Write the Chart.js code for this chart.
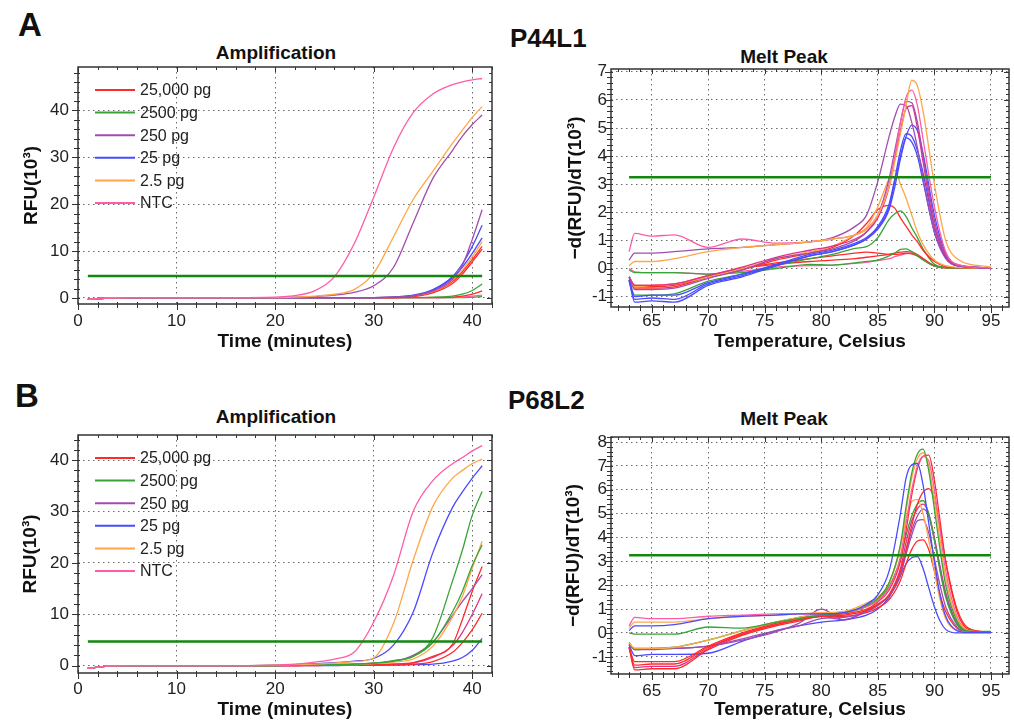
<!DOCTYPE html>
<html>
<head>
<meta charset="utf-8">
<script src="https://cdn.jsdelivr.net/npm/chart.js@4.4.0/dist/chart.umd.min.js"></script>
<style>
  html, body { margin: 0; padding: 0; background: #fff; width: 1014px; height: 720px; overflow: hidden; }
  .box { position: absolute; }
  .txt { position: absolute; font-family: 'Liberation Sans', Arial, sans-serif; font-weight: bold; color: #111; white-space: nowrap; line-height: 1; }
  .mid { transform: translateX(-50%); }
</style>
</head>
<body>
<div class="txt" style="left:18px; top:8px; font-size:33px;">A</div>
<div class="txt" style="left:15px; top:379px; font-size:33px;">B</div>
<div class="txt" style="left:510px; top:25px; font-size:26px;">P44L1</div>
<div class="txt" style="left:508px; top:387px; font-size:26px;">P68L2</div>
<div class="txt mid" style="left:276px; top:43px; font-size:19px;">Amplification</div>
<div class="txt mid" style="left:784px; top:47px; font-size:19px;">Melt Peak</div>
<div class="txt mid" style="left:276px; top:407px; font-size:19px;">Amplification</div>
<div class="txt mid" style="left:784px; top:409px; font-size:19px;">Melt Peak</div>

<div class="box" style="left:0px; top:60px;"><canvas id="ampA" width="500" height="300"></canvas></div>
<div class="box" style="left:500px; top:60px;"><canvas id="meltA" width="514" height="300"></canvas></div>
<div class="box" style="left:0px; top:380px;"><canvas id="ampB" width="500" height="340"></canvas></div>
<div class="box" style="left:500px; top:380px;"><canvas id="meltB" width="514" height="340"></canvas></div>

<script>
// ---------- amplification data (time in minutes, RFU x 1000) ----------
const minutes = [1, 3, 5, 10, 15, 20, 22, 24, 26, 28, 30, 32, 34, 36, 38, 39, 40, 41];
const ampTicks = [0, 10, 20, 30, 40];
const ampThresholdX = [1, 41];
const ampThresholdA = [4.7, 4.7];
const ampThresholdB = [4.7, 4.7];

const legendLabels = ['25,000 pg', '2500 pg', '250 pg', '25 pg', '2.5 pg', 'NTC'];
const legendKeys = ['red', 'green', 'purple', 'blue', 'orange', 'pink'];

// P44L1
const ampA_ntc    = [-0.3, 0.0, 0.1, 0.1, 0.1, 0.2, 0.5, 1.5, 4.5, 11.5, 21.5, 32.0, 39.5, 43.5, 45.5, 46.1, 46.5, 46.8];
const ampA_ora1   = [-0.3, 0.0, 0.1, 0.1, 0.1, 0.1, 0.2, 0.4, 0.8, 1.8, 5.3, 13.0, 21.0, 27.0, 33.0, 35.8, 38.5, 40.8];
const ampA_pur1   = [-0.3, 0.0, 0.1, 0.1, 0.1, 0.1, 0.2, 0.3, 0.6, 1.2, 2.6, 6.5, 16.0, 25.5, 31.5, 34.5, 37.0, 39.0];
const ampA_pur2   = [-0.3, 0.0, 0.1, 0.1, 0.1, 0.1, 0.1, 0.1, 0.1, 0.1, 0.1, 0.2, 0.5, 1.5, 4.0, 7.0, 12.5, 18.8];
const ampA_blue1  = [-0.3, 0.0, 0.1, 0.1, 0.1, 0.1, 0.1, 0.1, 0.1, 0.1, 0.1, 0.2, 0.6, 1.8, 4.6, 7.3, 11.0, 15.5];
const ampA_blue2  = [-0.3, 0.0, 0.1, 0.1, 0.1, 0.1, 0.1, 0.1, 0.1, 0.1, 0.1, 0.2, 0.5, 1.6, 4.3, 6.6, 9.5, 12.8];
const ampA_ora2   = [-0.3, 0.0, 0.1, 0.1, 0.1, 0.1, 0.1, 0.1, 0.1, 0.1, 0.1, 0.2, 0.5, 1.4, 3.8, 6.0, 8.8, 12.0];
const ampA_red1   = [-0.3, 0.0, 0.1, 0.1, 0.1, 0.1, 0.1, 0.1, 0.1, 0.1, 0.1, 0.1, 0.4, 1.3, 3.5, 5.6, 8.2, 11.0];
const ampA_red2   = [-0.3, 0.0, 0.1, 0.1, 0.1, 0.1, 0.1, 0.1, 0.1, 0.1, 0.1, 0.1, 0.3, 1.1, 3.1, 5.1, 7.7, 10.4];
const ampA_green1 = [-0.3, 0.0, 0.1, 0.1, 0.1, 0.1, 0.1, 0.1, 0.1, 0.1, 0.1, 0.1, 0.1, 0.2, 0.4, 0.8, 1.6, 3.0];
const ampA_red3   = [-0.3, 0.0, 0.1, 0.1, 0.1, 0.1, 0.1, 0.1, 0.1, 0.1, 0.1, 0.1, 0.1, 0.1, 0.2, 0.4, 0.8, 1.5];
const ampA_pink2  = [-0.3, 0.0, 0.1, 0.1, 0.1, 0.1, 0.1, 0.1, 0.1, 0.1, 0.1, 0.1, 0.1, 0.1, 0.1, 0.2, 0.4, 0.6];
const ampA_green2 = [-0.3, 0.0, 0.1, 0.1, 0.1, 0.1, 0.1, 0.1, 0.1, 0.1, 0.1, 0.1, 0.1, 0.1, 0.1, 0.1, 0.2, 0.3];

// P68L2
const ampB_ntc    = [-0.5, -0.1, 0.0, 0.0, 0.0, 0.1, 0.3, 0.7, 1.3, 2.6, 8.5, 17.5, 30.0, 36.0, 39.3, 40.5, 41.8, 42.8];
const ampB_ora1   = [-0.5, -0.1, 0.0, 0.0, 0.0, 0.1, 0.2, 0.3, 0.5, 0.8, 1.5, 8.2, 20.5, 31.0, 36.5, 38.0, 39.3, 40.2];
const ampB_blue1  = [-0.5, -0.1, 0.0, 0.0, 0.0, 0.1, 0.2, 0.4, 0.6, 0.9, 1.4, 4.0, 10.4, 22.0, 30.8, 33.8, 36.5, 38.9];
const ampB_green1 = [-0.5, -0.1, 0.0, 0.0, 0.0, 0.0, 0.1, 0.1, 0.2, 0.3, 0.5, 1.0, 1.8, 5.5, 16.5, 22.5, 29.3, 33.9];
const ampB_green2 = [-0.5, -0.1, 0.0, 0.0, 0.0, 0.0, 0.1, 0.1, 0.2, 0.3, 0.5, 0.9, 1.8, 4.5, 10.5, 14.5, 19.5, 23.5];
const ampB_ora2   = [-0.5, -0.1, 0.0, 0.0, 0.0, 0.0, 0.1, 0.1, 0.2, 0.2, 0.4, 0.7, 1.3, 3.8, 9.5, 13.5, 19.0, 24.2];
const ampB_pur1   = [-0.5, -0.1, 0.0, 0.0, 0.0, 0.0, 0.1, 0.1, 0.2, 0.3, 0.5, 0.8, 2.0, 4.6, 9.8, 12.5, 15.0, 17.7];
const ampB_red1   = [-0.5, -0.1, 0.0, 0.0, 0.0, 0.0, 0.0, 0.1, 0.1, 0.1, 0.2, 0.3, 0.6, 1.8, 4.2, 9.0, 14.5, 19.3];
const ampB_mag1   = [-0.5, -0.1, 0.0, 0.0, 0.0, 0.0, 0.0, 0.1, 0.1, 0.1, 0.2, 0.3, 0.5, 1.6, 3.9, 6.5, 10.0, 14.0];
const ampB_red2   = [-0.5, -0.1, 0.0, 0.0, 0.0, 0.0, 0.0, 0.0, 0.1, 0.1, 0.1, 0.2, 0.3, 0.8, 2.6, 4.5, 7.0, 10.2];
const ampB_blue2  = [-0.5, -0.1, 0.0, 0.0, 0.0, 0.0, 0.0, 0.0, 0.0, 0.1, 0.1, 0.1, 0.2, 0.3, 0.9, 1.6, 3.0, 5.3];

// ---------- melt peak data (temperature in C, -d(RFU)/dT x 1000) ----------
const meltTicksX = [65, 70, 75, 80, 85, 90, 95];
const meltTicksYA = [-1, 0, 1, 2, 3, 4, 5, 6, 7];
const meltTicksYB = [-1, 0, 1, 2, 3, 4, 5, 6, 7, 8];
const meltThresholdX = [63, 95];
const meltThresholdA = [3.25, 3.25];
const meltThresholdB = [3.26, 3.26];

const tempA = [63, 63.5, 65, 67, 70, 73, 76, 79, 81, 83, 84, 85, 86, 86.5, 87, 87.5, 88, 88.5, 89, 90, 91, 92, 95];
const meltA_ora1   = [0.1, 0.25, 0.25, 0.35, 0.6, 0.75, 0.85, 0.95, 1.05, 1.2, 1.4, 1.9, 2.9, 3.8, 4.8, 5.8, 6.7, 6.5, 5.6, 3.0, 1.0, 0.35, 0.05];
const meltA_pink1  = [0.6, 1.25, 1.15, 1.2, 0.75, 1.05, 0.9, 0.95, 1.05, 1.2, 1.4, 1.9, 3.0, 4.0, 5.2, 6.1, 6.35, 5.8, 4.6, 2.2, 0.6, 0.15, 0.02];
const meltA_pur1   = [0.3, 0.55, 0.55, 0.6, 0.7, 0.75, 0.85, 0.95, 1.1, 1.5, 1.9, 3.1, 4.7, 5.4, 5.85, 5.8, 5.2, 4.3, 3.2, 1.3, 0.35, 0.1, 0.02];
const meltA_pur2   = [-0.3, -0.75, -0.75, -0.7, -0.35, -0.05, 0.35, 0.55, 0.7, 1.0, 1.3, 1.9, 3.2, 4.2, 5.2, 5.95, 5.9, 5.2, 4.0, 1.7, 0.5, 0.15, 0.02];
const meltA_red1   = [-0.3, -0.6, -0.6, -0.55, -0.25, 0.05, 0.4, 0.65, 0.8, 1.05, 1.3, 1.8, 2.9, 3.9, 4.9, 5.7, 5.8, 5.0, 3.8, 1.5, 0.45, 0.1, 0.02];
const meltA_blue1  = [-0.4, -1.2, -1.15, -1.2, -0.6, -0.3, 0.1, 0.45, 0.6, 0.85, 1.05, 1.4, 2.1, 2.9, 3.9, 4.7, 5.1, 4.9, 4.1, 1.9, 0.55, 0.12, 0.02];
const meltA_blue2  = [-0.4, -1.0, -0.95, -0.95, -0.5, -0.2, 0.15, 0.5, 0.65, 0.9, 1.1, 1.5, 2.3, 3.2, 4.2, 4.8, 4.7, 4.2, 3.4, 1.5, 0.45, 0.1, 0.02];
const meltA_blue3  = [-0.45, -1.1, -1.05, -1.1, -0.55, -0.25, 0.1, 0.45, 0.6, 0.85, 1.05, 1.45, 2.2, 3.1, 4.0, 4.65, 4.5, 4.0, 3.1, 1.3, 0.4, 0.1, 0.02];
const meltA_ora2   = [-0.3, -0.65, -0.6, -0.55, -0.3, 0.0, 0.35, 0.6, 0.8, 1.2, 1.45, 2.2, 3.2, 3.5, 3.0, 2.5, 1.9, 1.3, 0.85, 0.3, 0.1, 0.04, 0.02];
const meltA_red2   = [-0.3, -0.7, -0.7, -0.65, -0.3, -0.05, 0.3, 0.55, 0.75, 1.2, 1.6, 2.1, 2.25, 2.15, 1.8, 1.5, 1.2, 0.95, 0.65, 0.25, 0.07, 0.03, 0.02];
const meltA_green1 = [-0.4, -0.95, -0.95, -0.9, -0.45, -0.2, 0.1, 0.35, 0.5, 0.72, 0.78, 1.1, 1.75, 1.95, 2.05, 1.85, 1.45, 1.1, 0.7, 0.15, 0.04, 0.02, 0.02];
const meltA_green2 = [-0.05, -0.15, -0.15, -0.15, -0.2, -0.15, 0.0, 0.15, 0.12, 0.2, 0.25, 0.3, 0.45, 0.55, 0.68, 0.7, 0.6, 0.45, 0.3, 0.08, 0.02, 0.02, 0.02];
const meltA_red3   = [-0.3, -0.6, -0.6, -0.55, -0.25, 0.0, 0.2, 0.35, 0.45, 0.55, 0.58, 0.55, 0.5, 0.5, 0.52, 0.55, 0.52, 0.45, 0.35, 0.1, 0.03, 0.02, 0.02];
const meltA_pink2  = [0.0, -0.12, -0.15, -0.15, -0.2, -0.1, 0.05, 0.1, 0.12, 0.18, 0.22, 0.28, 0.35, 0.42, 0.48, 0.53, 0.55, 0.45, 0.32, 0.08, 0.02, 0.02, 0.02];
const meltA_red4   = [-0.3, -0.65, -0.65, -0.6, -0.3, 0.0, 0.15, 0.25, 0.3, 0.35, 0.4, 0.45, 0.5, 0.55, 0.58, 0.6, 0.58, 0.5, 0.35, 0.1, 0.03, 0.02, 0.02];

const tempB = [63, 63.5, 65, 67, 70, 73, 76, 78, 80, 82, 84, 85, 86, 87, 87.5, 88, 88.5, 89, 89.5, 90, 90.5, 91, 92, 93, 95];
const meltB_blue1  = [0.1, 0.3, 0.3, 0.35, 0.6, 0.7, 0.75, 0.8, 0.8, 0.85, 1.2, 1.6, 2.6, 5.0, 6.5, 7.05, 7.1, 6.2, 4.6, 3.0, 1.6, 0.7, 0.1, 0.02, 0.02];
const meltB_green1 = [0.0, -0.05, -0.05, -0.05, 0.25, 0.2, 0.45, 0.6, 0.75, 0.85, 1.15, 1.45, 2.1, 3.7, 5.3, 6.7, 7.5, 7.7, 6.8, 5.2, 3.5, 2.0, 0.5, 0.08, 0.05];
const meltB_ora1   = [0.2, 0.45, 0.45, 0.45, 0.6, 0.7, 0.75, 0.8, 0.85, 0.9, 1.25, 1.5, 2.1, 3.6, 5.1, 6.5, 7.3, 7.55, 7.0, 5.6, 3.9, 2.3, 0.6, 0.1, 0.03];
const meltB_pink1  = [0.3, 0.65, 0.6, 0.6, 0.7, 0.75, 0.8, 0.8, 0.8, 0.85, 1.1, 1.35, 1.9, 3.2, 4.6, 6.0, 7.0, 7.4, 7.2, 6.0, 4.3, 2.6, 0.7, 0.1, 0.02];
const meltB_red1   = [-0.6, -1.2, -1.2, -1.2, -0.55, 0.0, 0.4, 0.6, 0.75, 0.8, 1.0, 1.3, 1.8, 3.0, 4.3, 5.8, 6.9, 7.4, 7.45, 6.4, 4.7, 3.0, 0.9, 0.15, 0.02];
const meltB_red2   = [-0.6, -1.35, -1.3, -1.3, -0.6, -0.05, 0.35, 0.55, 0.7, 0.75, 0.95, 1.2, 1.6, 2.6, 3.5, 4.5, 5.4, 5.9, 6.05, 5.6, 4.4, 3.0, 1.0, 0.2, 0.02];
const meltB_ora2   = [-0.4, -0.65, -0.65, -0.6, -0.3, 0.1, 0.45, 0.65, 0.8, 0.85, 1.15, 1.45, 2.1, 3.6, 4.8, 5.5, 5.6, 5.0, 3.9, 2.6, 1.4, 0.6, 0.1, 0.03, 0.02];
const meltB_green2 = [-0.4, -0.7, -0.65, -0.6, -0.3, 0.1, 0.45, 0.65, 0.8, 0.85, 1.1, 1.4, 1.95, 3.1, 4.1, 4.9, 5.4, 5.55, 5.0, 3.9, 2.6, 1.5, 0.35, 0.07, 0.06];
const meltB_pur1   = [-0.45, -0.65, -0.65, -0.65, -0.55, -0.3, 0.05, 0.4, 1.0, 0.55, 0.95, 1.2, 1.6, 2.5, 3.4, 4.3, 4.9, 5.2, 4.9, 3.9, 2.7, 1.6, 0.4, 0.05, 0.02];
const meltB_pur2   = [-0.45, -0.7, -0.7, -0.65, -0.55, -0.25, 0.1, 0.3, 0.6, 0.65, 0.9, 1.15, 1.55, 2.4, 3.3, 4.1, 4.7, 4.75, 4.2, 3.1, 2.0, 1.1, 0.25, 0.04, 0.02];
const meltB_red3   = [-0.6, -1.55, -1.5, -1.5, -0.7, -0.1, 0.3, 0.5, 0.7, 0.7, 0.85, 1.05, 1.4, 2.2, 2.9, 3.5, 3.85, 3.9, 3.5, 2.6, 1.6, 0.9, 0.2, 0.03, 0.02];
const meltB_blue2  = [-0.5, -0.95, -0.9, -0.9, -0.85, -0.35, 0.1, 0.3, 0.45, 0.55, 0.75, 1.0, 1.5, 2.4, 2.9, 3.15, 3.2, 2.7, 1.9, 1.1, 0.5, 0.15, 0.0, 0.0, 0.0];
const meltB_red4   = [-0.6, -1.45, -1.4, -1.4, -0.65, -0.05, 0.35, 0.55, 0.7, 0.55, 0.9, 1.15, 1.6, 2.7, 3.8, 4.7, 5.2, 5.4, 5.0, 4.0, 2.8, 1.7, 0.4, 0.05, 0.02];

// ---------- styles ----------
const FONT = "'Liberation Sans', Arial, sans-serif";
const COLORS = {
  red: '#ff2b2b', green: '#38a438', purple: '#a04db0', blue: '#4a4aff',
  orange: '#ffa648', pink: '#ff5ca8', magenta: '#e0308e'
};
const THRESH_COLOR = '#13870f';

// box, grid ticks (minor + major) round the plot area
const frameTicks = {
  id: 'frameTicks',
  afterDraw(chart, args, o) {
    const { ctx, chartArea: a } = chart;
    const sx = chart.scales.x, sy = chart.scales.y;
    const each = (scale, minor, major, fn) => {
      for (let i = Math.ceil(scale.min / minor - 1e-9); i * minor <= scale.max + 1e-9; i++) {
        const v = i * minor;
        const r = v / major;
        fn(Math.round(scale.getPixelForValue(v)) + 0.5, Math.abs(r - Math.round(r)) < 1e-6);
      }
    };
    ctx.save();
    ctx.strokeStyle = '#333';
    ctx.lineWidth = 1;
    ctx.beginPath();
    each(sx, o.xMinor, o.xMajor, (px, big) => {
      ctx.moveTo(px, a.bottom - 2); ctx.lineTo(px, a.bottom + (big ? 6 : 4));
      ctx.moveTo(px, a.top); ctx.lineTo(px, a.top + (big ? 5 : 3));
    });
    each(sy, o.yMinor, o.yMajor, (py, big) => {
      ctx.moveTo(a.left + 2, py); ctx.lineTo(a.left - (big ? 6 : 4), py);
      ctx.moveTo(a.right, py); ctx.lineTo(a.right - (big ? 5 : 3), py);
    });
    ctx.stroke();
    ctx.lineWidth = 1.5;
    ctx.strokeRect(a.left, a.top, a.right - a.left, a.bottom - a.top);
    ctx.restore();
  }
};

// legend drawn inside the plot, top left
const sampleLegend = {
  id: 'sampleLegend',
  afterDraw(chart, args, o) {
    if (!o.labels) return;
    const { ctx, chartArea: a } = chart;
    ctx.save();
    ctx.font = '16px ' + FONT;
    ctx.textBaseline = 'middle';
    o.labels.forEach((txt, i) => {
      const y = a.top + o.dy + i * o.gap;
      ctx.strokeStyle = COLORS[o.keys[i]];
      ctx.lineWidth = 2;
      ctx.beginPath();
      ctx.moveTo(a.left + o.dx, y);
      ctx.lineTo(a.left + o.dx + 40, y);
      ctx.stroke();
      ctx.fillStyle = '#222';
      ctx.fillText(txt, a.left + o.dx + 45, y + 1);
    });
    ctx.restore();
  }
};

function buildChart(id, c) {
  const datasets = [{
    data: c.thrX.map((x, i) => ({ x, y: c.thrY[i] })),
    borderColor: THRESH_COLOR, borderWidth: 2.5, pointRadius: 0, tension: 0
  }].concat(c.series.map(([ys, key]) => ({
    data: c.xs.map((x, i) => ({ x, y: ys[i] })),
    borderColor: COLORS[key], borderWidth: 1.3, pointRadius: 0,
    cubicInterpolationMode: 'monotone'
  })));

  const tickFont = { size: 17, family: FONT };
  const titleFont = { size: 19, weight: 'bold', family: FONT, lineHeight: 1 };
  const grid = { color: '#6a6a6a', lineWidth: 1, drawTicks: false };
  const border = { display: false, dash: [1.5, 3.5] };

  return new Chart(document.getElementById(id), {
    type: 'line',
    data: { datasets },
    options: {
      responsive: false,
      animation: false,
      layout: { padding: { left: 0, right: c.padRight, top: c.padTop, bottom: 0 } },
      scales: {
        x: {
          type: 'linear', min: c.xMin, max: c.xMax,
          afterBuildTicks: s => { s.ticks = c.xTicks.map(v => ({ value: v })); },
          afterFit: s => { s.height = c.xAxisH; s.paddingLeft = 0; s.paddingRight = 0; },
          grid, border,
          ticks: { font: tickFont, color: '#222', padding: c.xTickPad, maxRotation: 0, autoSkip: false },
          title: { display: true, text: c.xTitle, font: titleFont, color: '#111', padding: { top: 0, bottom: c.xTitlePad } }
        },
        y: {
          type: 'linear', min: c.yMin, max: c.yMax,
          afterBuildTicks: s => { s.ticks = c.yTicks.map(v => ({ value: v })); },
          afterFit: s => { s.width = c.yAxisW; s.paddingTop = 0; s.paddingBottom = 0; },
          grid, border,
          ticks: { font: tickFont, color: '#222', padding: c.yTickPad, autoSkip: false },
          title: { display: true, text: c.yTitle, font: titleFont, color: '#111', padding: { top: c.yTitlePad, bottom: 0 } }
        }
      },
      plugins: {
        legend: { display: false },
        tooltip: { enabled: false },
        frameTicks: c.minor,
        sampleLegend: c.legend || {}
      }
    },
    plugins: c.legend ? [frameTicks, sampleLegend] : [frameTicks]
  });
}

const ampMinor = { xMinor: 2, xMajor: 10, yMinor: 2, yMajor: 10 };
const meltMinor = { xMinor: 1, xMajor: 5, yMinor: 0.2, yMajor: 1 };
const ampLegend = { labels: legendLabels, keys: legendKeys, dx: 17, dy: 23, gap: 22.6 };

buildChart('ampA', {
  xs: minutes, thrX: ampThresholdX, thrY: ampThresholdA,
  series: [
    [ampA_ntc, 'pink'], [ampA_ora1, 'orange'], [ampA_pur1, 'purple'], [ampA_pur2, 'purple'],
    [ampA_blue1, 'blue'], [ampA_blue2, 'blue'], [ampA_ora2, 'orange'], [ampA_red1, 'red'],
    [ampA_red2, 'red'], [ampA_green1, 'green'], [ampA_red3, 'red'], [ampA_pink2, 'pink'], [ampA_green2, 'green']
  ],
  xMin: 0, xMax: 42, yMin: -1.28, yMax: 49.25, xTicks: ampTicks, yTicks: ampTicks,
  padTop: 7, padRight: 8, xAxisH: 56, yAxisW: 78,
  xTickPad: 7, yTickPad: 9, xTitlePad: 8.5, yTitlePad: 22,
  xTitle: 'Time (minutes)', yTitle: 'RFU(10³)', minor: ampMinor, legend: ampLegend
});

buildChart('meltA', {
  xs: tempA, thrX: meltThresholdX, thrY: meltThresholdA,
  series: [
    [meltA_ora1, 'orange'], [meltA_pink1, 'pink'], [meltA_pur1, 'purple'], [meltA_pur2, 'purple'],
    [meltA_red1, 'magenta'], [meltA_blue1, 'blue'], [meltA_blue2, 'blue'], [meltA_blue3, 'blue'],
    [meltA_ora2, 'orange'], [meltA_red2, 'red'], [meltA_green1, 'green'], [meltA_green2, 'green'],
    [meltA_red3, 'red'], [meltA_pink2, 'pink'], [meltA_red4, 'red']
  ],
  xMin: 61.4, xMax: 96.6, yMin: -1.37, yMax: 7.1, xTicks: meltTicksX, yTicks: meltTicksYA,
  padTop: 9, padRight: 5, xAxisH: 53, yAxisW: 111,
  xTickPad: 4, yTickPad: 4, xTitlePad: 8.5, yTitlePad: 66,
  xTitle: 'Temperature, Celsius', yTitle: '−d(RFU)/dT(10³)', minor: meltMinor
});

buildChart('ampB', {
  xs: minutes, thrX: ampThresholdX, thrY: ampThresholdB,
  series: [
    [ampB_ntc, 'pink'], [ampB_ora1, 'orange'], [ampB_blue1, 'blue'], [ampB_green1, 'green'],
    [ampB_green2, 'green'], [ampB_ora2, 'orange'], [ampB_pur1, 'purple'], [ampB_red1, 'red'],
    [ampB_mag1, 'magenta'], [ampB_red2, 'red'], [ampB_blue2, 'blue']
  ],
  xMin: 0, xMax: 42, yMin: -1.42, yMax: 44.88, xTicks: ampTicks, yTicks: ampTicks,
  padTop: 55, padRight: 8, xAxisH: 47, yAxisW: 78,
  xTickPad: 6.3, yTickPad: 9, xTitlePad: 0.5, yTitlePad: 21.5,
  xTitle: 'Time (minutes)', yTitle: 'RFU(10³)', minor: ampMinor, legend: ampLegend
});

buildChart('meltB', {
  xs: tempB, thrX: meltThresholdX, thrY: meltThresholdB,
  series: [
    [meltB_blue1, 'blue'], [meltB_green1, 'green'], [meltB_ora1, 'orange'], [meltB_pink1, 'pink'],
    [meltB_red1, 'red'], [meltB_red2, 'red'], [meltB_ora2, 'orange'], [meltB_green2, 'green'],
    [meltB_pur1, 'purple'], [meltB_pur2, 'purple'], [meltB_red3, 'red'], [meltB_blue2, 'blue'],
    [meltB_red4, 'magenta']
  ],
  xMin: 61.4, xMax: 96.6, yMin: -1.72, yMax: 8.21, xTicks: meltTicksX, yTicks: meltTicksYB,
  padTop: 57, padRight: 5, xAxisH: 46, yAxisW: 111,
  xTickPad: 7, yTickPad: 4, xTitlePad: 0.5, yTitlePad: 64,
  xTitle: 'Temperature, Celsius', yTitle: '−d(RFU)/dT(10³)', minor: meltMinor
});
</script>
</body>
</html>
